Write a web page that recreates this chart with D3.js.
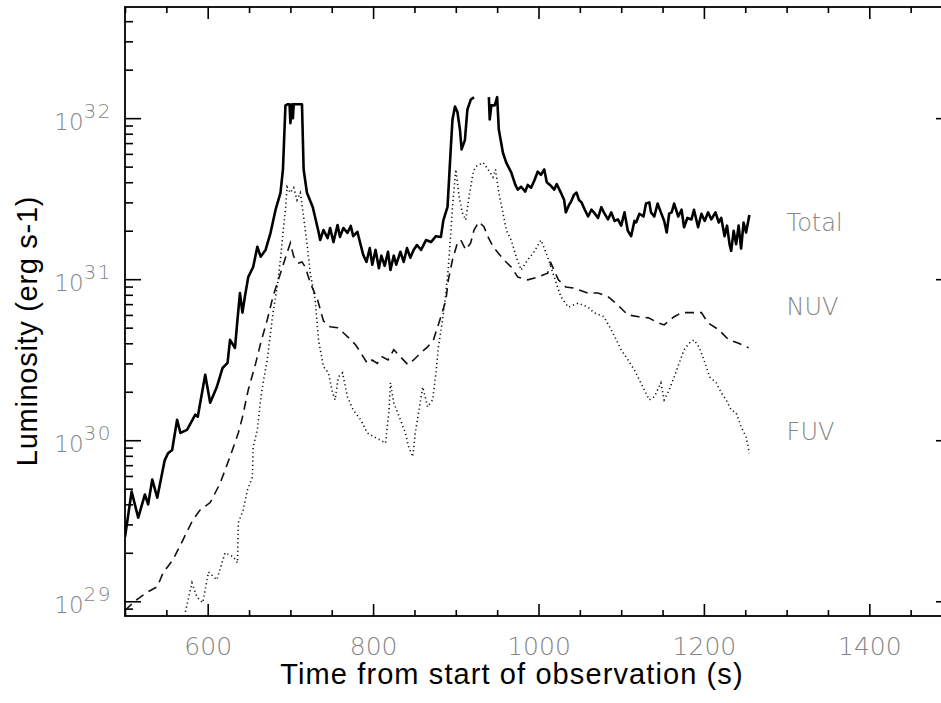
<!DOCTYPE html>
<html>
<head>
<meta charset="utf-8">
<script src="https://cdn.jsdelivr.net/npm/d3@7"></script>
<style>
  body { margin: 0; background: #fff; }
  .tick-label { font-family: "DejaVu Sans", sans-serif; fill: #858585; font-weight: 200; }
  .title { font-family: "Liberation Sans", Arial, sans-serif; fill: #000; }
</style>
</head>
<body>
<svg id="chart"></svg>
<script>
const width = 941;
const height = 703;

// [time (s), luminosity (erg s-1)]; null marks the gap in the saturated peak
const total = [
  [500, 2.5e29], [508, 4.8e29], [516, 3.3e29], [524, 4.6e29], [528, 4.0e29], [533, 5.7e29],
  [539, 4.4e29], [548, 7.5e29], [552, 8.3e29], [557, 8.7e29], [563, 1.34e30], [567, 1.11e30],
  [575, 1.16e30], [585, 1.44e30], [588, 1.40e30], [597, 2.55e30], [603, 1.71e30], [611, 2.14e30],
  [618, 2.81e30], [624, 3.02e30], [627, 4.2e30], [633, 3.74e30], [636, 5.6e30], [639, 8.2e30],
  [642, 6.2e30], [645, 7.8e30], [649, 1.03e31], [655, 1.19e31], [660, 1.59e31], [664, 1.38e31],
  [670, 1.52e31], [676, 1.94e31], [682, 2.69e31], [688, 3.44e31], [691, 4.8e31], [694, 1.2e32],
  [697, 1.22e32], [699, 1.22e32], [700, 9.3e31], [702, 1.22e32], [703, 1.0e32], [704, 1.22e32],
  [714, 1.22e32], [716, 4.8e31], [720, 3.44e31], [727, 2.81e31], [734, 1.97e31], [736, 1.75e31],
  [740, 2.02e31], [745, 1.80e31], [748, 2.08e31], [752, 1.70e31], [757, 2.17e31], [760, 1.83e31],
  [764, 2.08e31], [769, 1.94e31], [773, 2.14e31], [776, 1.85e31], [781, 1.97e31], [785, 1.63e31],
  [788, 1.42e31], [792, 1.28e31], [796, 1.56e31], [799, 1.23e31], [803, 1.52e31], [807, 1.17e31],
  [810, 1.40e31], [814, 1.21e31], [818, 1.48e31], [821, 1.14e31], [825, 1.40e31], [828, 1.23e31],
  [833, 1.48e31], [837, 1.28e31], [841, 1.56e31], [845, 1.36e31], [849, 1.52e31], [853, 1.63e31],
  [858, 1.52e31], [864, 1.75e31], [870, 1.70e31], [876, 1.85e31], [882, 1.83e31], [885, 2.33e31],
  [890, 2.81e31], [894, 6.6e31], [896, 9.8e31], [899, 1.18e32], [902, 1.09e32], [905, 8.5e31],
  [907, 6.4e31], [911, 7.3e31], [914, 1.13e32], [918, 1.30e32], [922, 1.35e32], [931, null],
  [940, 1.35e32], [941, 9.8e31], [943, 1.2e32], [947, 1.2e32], [950, 1.35e32], [952, 8.5e31],
  [957, 6.1e31], [961, 5.3e31], [967, 4.6e31], [972, 3.85e31], [975, 3.6e31], [979, 3.75e31],
  [984, 3.5e31], [987, 3.85e31], [991, 3.7e31], [995, 4.1e31], [999, 4.65e31], [1003, 4.45e31],
  [1007, 4.8e31], [1010, 4.0e31], [1015, 3.8e31], [1019, 3.6e31], [1022, 3.9e31], [1027, 3.45e31],
  [1031, 3.1e31], [1033, 2.6e31], [1037, 2.9e31], [1039, 3.0e31], [1043, 3.35e31], [1046, 3.45e31],
  [1049, 3.1e31], [1052, 3.0e31], [1056, 2.7e31], [1060, 2.45e31], [1064, 2.7e31], [1067, 2.6e31],
  [1072, 2.4e31], [1076, 2.8e31], [1079, 2.6e31], [1084, 2.35e31], [1088, 2.6e31], [1092, 2.3e31],
  [1096, 2.35e31], [1100, 2.15e31], [1104, 2.6e31], [1108, 2.0e31], [1112, 1.85e31], [1116, 2.3e31],
  [1118, 2.25e31], [1122, 2.55e31], [1127, 2.45e31], [1130, 2.95e31], [1134, 3.0e31], [1136, 2.6e31],
  [1140, 2.45e31], [1144, 2.95e31], [1148, 2.6e31], [1152, 2.3e31], [1155, 1.95e31], [1158, 2.55e31],
  [1161, 2.6e31], [1164, 2.95e31], [1169, 2.45e31], [1173, 2.7e31], [1176, 2.1e31], [1180, 2.4e31],
  [1185, 2.35e31], [1188, 2.7e31], [1193, 2.1e31], [1197, 2.55e31], [1201, 2.3e31], [1205, 2.6e31],
  [1209, 2.35e31], [1214, 2.6e31], [1218, 2.25e31], [1221, 2.4e31], [1225, 1.85e31], [1228, 2.15e31],
  [1231, 1.65e31], [1233, 1.5e31], [1236, 2.0e31], [1239, 1.65e31], [1242, 2.15e31], [1245, 1.55e31],
  [1248, 2.25e31], [1251, 1.95e31], [1255, 2.5e31]
];

const nuv = [
  [500, 8.8e28], [514, 1.02e29], [527, 1.14e29], [539, 1.23e29], [546, 1.5e29], [558, 1.81e29],
  [570, 2.4e29], [582, 3.2e29], [591, 3.7e29], [603, 4.1e29], [615, 5.4e29], [627, 7.9e29],
  [637, 1.11e30], [642, 1.39e30], [649, 2.05e30], [658, 3.0e30], [664, 4.0e30], [672, 5.6e30],
  [679, 7.8e30], [688, 1.09e31], [696, 1.46e31], [700, 1.68e31], [704, 1.38e31], [710, 1.26e31],
  [714, 1.28e31], [718, 1.19e31], [724, 9.5e30], [733, 7.4e30], [740, 5.5e30], [748, 5.06e30],
  [757, 5.0e30], [764, 4.65e30], [773, 4.2e30], [779, 3.9e30], [785, 3.5e30], [793, 3.0e30],
  [799, 3.15e30], [805, 3.0e30], [811, 3.3e30], [818, 3.15e30], [825, 3.65e30], [833, 3.3e30],
  [842, 2.95e30], [849, 3.15e30], [858, 3.5e30], [866, 3.8e30], [873, 4.2e30], [878, 5.05e30],
  [882, 5.85e30], [888, 7.4e30], [891, 9.9e30], [896, 1.32e31], [902, 1.68e31], [906, 1.75e31],
  [912, 1.52e31], [918, 1.68e31], [922, 2.02e31], [928, 2.27e31], [934, 2.12e31], [939, 1.83e31],
  [945, 1.59e31], [951, 1.46e31], [958, 1.32e31], [967, 1.19e31], [975, 1.03e31], [987, 9.9e30],
  [999, 1.03e31], [1011, 1.09e31], [1015, 1.26e31], [1024, 9.9e30], [1033, 8.95e30], [1043, 8.8e30],
  [1060, 8.2e30], [1072, 8.2e30], [1084, 7.8e30], [1096, 6.9e30], [1108, 6.0e30], [1121, 5.85e30],
  [1133, 5.75e30], [1145, 5.35e30], [1152, 5.2e30], [1164, 5.85e30], [1173, 6.2e30], [1185, 6.2e30],
  [1197, 6.2e30], [1205, 5.35e30], [1218, 4.85e30], [1230, 4.2e30], [1242, 4.0e30], [1254, 3.75e30]
];

const fuv = [
  [573, 8.6e28], [581, 1.30e29], [587, 1.06e29], [594, 9.8e28], [601, 1.52e29], [611, 1.36e29],
  [621, 2.0e29], [631, 1.89e29], [636, 1.73e29], [637, 3.07e29], [643, 3.7e29], [648, 4.9e29],
  [654, 5.9e29], [655, 9.1e29], [660, 1.16e30], [664, 1.78e30], [667, 2.27e30], [672, 3.16e30],
  [679, 6.2e30], [684, 8.97e30], [688, 1.32e31], [691, 1.94e31], [694, 2.69e31], [696, 3.74e31],
  [700, 3.44e31], [704, 3.7e31], [708, 3.1e31], [712, 3.44e31], [716, 2.44e31], [721, 1.52e31],
  [724, 1.09e31], [730, 7.4e30], [734, 4.2e30], [740, 2.86e30], [746, 2.62e30], [751, 1.97e30],
  [754, 1.78e30], [758, 2.47e30], [763, 2.62e30], [769, 1.86e30], [776, 1.54e30], [785, 1.34e30],
  [793, 1.11e30], [801, 1.05e30], [809, 1.0e30], [815, 9.6e29], [819, 1.48e30], [821, 2.27e30],
  [825, 1.71e30], [833, 1.34e30], [839, 1.11e30], [843, 9.1e29], [848, 7.9e29], [851, 1.11e30],
  [855, 1.48e30], [860, 2.14e30], [866, 1.61e30], [872, 1.78e30], [876, 2.62e30], [879, 3.8e30],
  [884, 5.6e30], [888, 8.2e30], [891, 1.19e31], [894, 1.94e31], [896, 2.81e31], [900, 4.8e31],
  [904, 3.25e31], [908, 2.58e31], [912, 2.33e31], [916, 3.25e31], [921, 4.6e31], [924, 5.0e31],
  [933, 5.3e31], [939, 4.8e31], [945, 4.3e31], [948, 4.8e31], [952, 3.44e31], [957, 2.58e31],
  [961, 2.02e31], [967, 1.75e31], [973, 1.38e31], [979, 1.14e31], [987, 1.32e31], [994, 1.46e31],
  [1003, 1.75e31], [1011, 1.38e31], [1019, 1.03e31], [1027, 7.8e30], [1036, 6.7e30], [1048, 7.1e30],
  [1060, 6.7e30], [1067, 6.2e30], [1079, 5.85e30], [1088, 4.85e30], [1094, 4.2e30], [1100, 3.64e30],
  [1108, 3.16e30], [1116, 2.73e30], [1122, 2.37e30], [1128, 2.05e30], [1134, 1.78e30], [1140, 1.86e30],
  [1148, 2.27e30], [1152, 1.78e30], [1158, 2.05e30], [1164, 2.47e30], [1170, 3.0e30], [1176, 3.64e30],
  [1182, 4.0e30], [1188, 4.2e30], [1194, 3.8e30], [1200, 3.16e30], [1207, 2.47e30], [1215, 2.27e30],
  [1221, 1.97e30], [1227, 1.78e30], [1233, 1.54e30], [1239, 1.48e30], [1245, 1.21e30], [1251, 1.05e30],
  [1255, 8.3e29]
];

const xMajorTicks = [600, 800, 1000, 1200, 1400];
const yMajorTicks = [1e29, 1e30, 1e31, 1e32];
const seriesLabels = ["Total", "NUV", "FUV"];
const labelAt = [[1300, 2.0e31], [1300, 6.0e30], [1300, 1.0e30]];

const svg = d3.select('#chart')
    .attr('width', width)
    .attr('height', height);

svg.append('rect')
    .attr('width', width)
    .attr('height', height)
    .attr('fill', '#fff');

const plotLeft = 125, plotRight = 952, plotTop = 7, plotBottom = 616;

const x = d3.scaleLinear().domain([500, 1500]).range([plotLeft, plotRight]);
const y = d3.scaleLog().domain([8.1e28, 4.9e32]).range([plotBottom, plotTop]);

// minor ticks
const xMinor = d3.range(500, 1501, 50).filter(d => d % 200 !== 0);
const yMinor = [];
for (let e = 28; e <= 32; e++) {
    for (let m = 2; m <= 9; m++) {
        const v = m * Math.pow(10, e);
        if (v >= 8.1e28 && v <= 4.9e32) yMinor.push(v);
    }
}

const axes = svg.append('g').attr('id', 'axes_g');

function styleAxis(g) {
    g.select('.domain').remove();
    g.selectAll('.tick line').attr('stroke', '#000').attr('stroke-width', 1.6);
}

axes.append('g')
    .attr('transform', `translate(0,${plotBottom})`)
    .call(d3.axisBottom(x).tickValues(xMajorTicks).tickSize(-12).tickPadding(21).tickFormat(d3.format('d')))
    .call(styleAxis)
    .call(g => g.selectAll('text')
        .attr('class', 'tick-label')
        .attr('font-size', 25)
        .attr('font-family', null)
        .attr('fill', null));

axes.append('g')
    .attr('transform', `translate(0,${plotBottom})`)
    .call(d3.axisBottom(x).tickValues(xMinor).tickSize(-6).tickFormat(''))
    .call(styleAxis);

axes.append('g')
    .attr('transform', `translate(0,${plotTop})`)
    .call(d3.axisTop(x).tickValues(xMajorTicks).tickSize(-12).tickFormat(''))
    .call(styleAxis);

axes.append('g')
    .attr('transform', `translate(0,${plotTop})`)
    .call(d3.axisTop(x).tickValues(xMinor).tickSize(-6).tickFormat(''))
    .call(styleAxis);

axes.append('g')
    .attr('transform', `translate(${plotLeft},0)`)
    .call(d3.axisLeft(y).tickValues(yMajorTicks).tickSize(-16).tickFormat(''))
    .call(styleAxis);

axes.append('g')
    .attr('transform', `translate(${plotLeft},0)`)
    .call(d3.axisLeft(y).tickValues(yMinor).tickSize(-8).tickFormat(''))
    .call(styleAxis);

axes.append('g')
    .attr('transform', `translate(${plotRight},0)`)
    .call(d3.axisRight(y).tickValues(yMajorTicks).tickSize(-16).tickFormat(''))
    .call(styleAxis);

axes.append('g')
    .attr('transform', `translate(${plotRight},0)`)
    .call(d3.axisRight(y).tickValues(yMinor).tickSize(-8).tickFormat(''))
    .call(styleAxis);

// frame
axes.append('rect')
    .attr('x', plotLeft)
    .attr('y', plotTop)
    .attr('width', plotRight - plotLeft)
    .attr('height', plotBottom - plotTop)
    .attr('fill', 'none')
    .attr('stroke', '#000')
    .attr('stroke-width', 1.8);

// y labels 10^n
const yLabels = axes.append('g').selectAll('text')
    .data(yMajorTicks)
    .enter().append('text')
    .attr('class', 'tick-label')
    .attr('x', plotLeft - 13)
    .attr('y', d => y(d) + 12)
    .attr('text-anchor', 'end')
    .attr('font-size', 23);
yLabels.append('tspan').text('10');
yLabels.append('tspan')
    .attr('dy', -12)
    .attr('font-size', 20)
    .attr('letter-spacing', 1.5)
    .text(d => Math.round(Math.log10(d)));

// curves
svg.append('clipPath')
    .attr('id', 'plot_clip')
    .append('rect')
    .attr('x', plotLeft)
    .attr('y', plotTop)
    .attr('width', plotRight - plotLeft)
    .attr('height', plotBottom - plotTop);

const line = d3.line()
    .defined(d => d[1] !== null)
    .x(d => x(d[0]))
    .y(d => y(d[1]));

const curves = svg.append('g').attr('clip-path', 'url(#plot_clip)');

curves.append('path')
    .datum(fuv)
    .attr('d', line)
    .attr('fill', 'none')
    .attr('stroke', '#111')
    .attr('stroke-width', 1.6)
    .attr('stroke-dasharray', '1.2,3');

curves.append('path')
    .datum(nuv)
    .attr('d', line)
    .attr('fill', 'none')
    .attr('stroke', '#111')
    .attr('stroke-width', 1.6)
    .attr('stroke-dasharray', '9,6');

curves.append('path')
    .datum(total)
    .attr('d', line)
    .attr('fill', 'none')
    .attr('stroke', '#000')
    .attr('stroke-width', 2.6)
    .attr('stroke-linejoin', 'round');

// series labels
svg.append('g').selectAll('text')
    .data(seriesLabels)
    .enter().append('text')
    .attr('class', 'tick-label')
    .attr('x', (d, i) => x(labelAt[i][0]))
    .attr('y', (d, i) => y(labelAt[i][1]))
    .attr('font-size', 24)
    .text(d => d);

// axis titles
svg.append('text')
    .attr('class', 'title')
    .attr('x', 512)
    .attr('y', 684)
    .attr('text-anchor', 'middle')
    .attr('font-size', 29)
    .attr('letter-spacing', 1.1)
    .text('Time from start of observation (s)');

svg.append('text')
    .attr('class', 'title')
    .attr('transform', 'translate(37,331) rotate(-90)')
    .attr('text-anchor', 'middle')
    .attr('font-size', 29)
    .attr('letter-spacing', 0.7)
    .text('Luminosity (erg s-1)');
</script>
</body>
</html>
